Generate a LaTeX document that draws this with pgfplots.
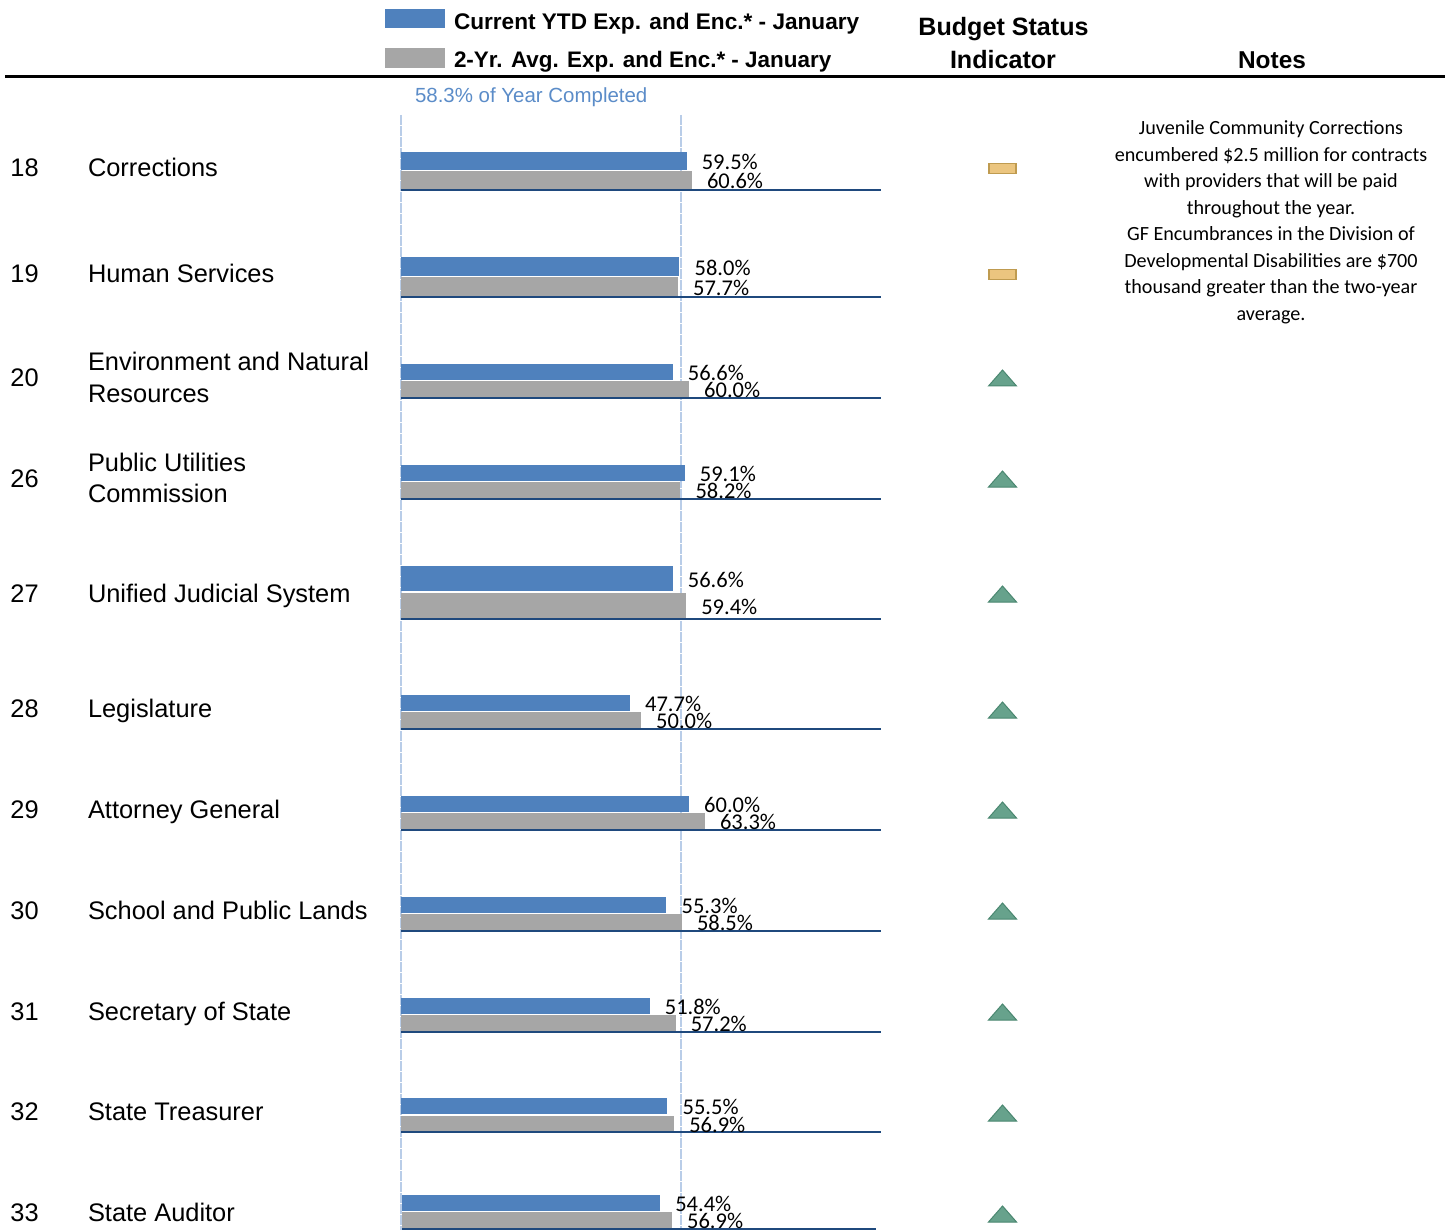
\documentclass[border=0pt]{standalone}
\usepackage{pgfplots}
\usepackage{fontspec}
\pgfplotsset{compat=1.18}
\setmainfont{Liberation Sans}
\newfontfamily\calibri{Carlito}
\definecolor{cblue}{HTML}{4F81BD}
\definecolor{cgray}{HTML}{A6A6A6}
\definecolor{cnavy}{HTML}{1F497D}
\definecolor{cvline}{HTML}{B9CDE8}
\definecolor{ctxt}{HTML}{5B8CC8}
\definecolor{gfill}{HTML}{67A28C}
\definecolor{gedge}{HTML}{4A8770}
\definecolor{ofill}{HTML}{EBC57F}
\definecolor{oedge}{HTML}{BF9B50}
\newcommand\hdfont{\bfseries\fontsize{12.55}{14}\selectfont}
\newcommand\ntfont{\bfseries\fontsize{12.2}{14}\selectfont}
\newcommand\lgfont{\bfseries\fontsize{11.3}{14}\selectfont}
\newcommand\lgfontb{\bfseries\fontsize{11.23}{14}\selectfont}
\newcommand\rowfont{\fontsize{12.7}{15.75}\selectfont}
% single-line row: baselines at the given pixel
\newcommand\rlab[3]{%
  \node[anchor=base west,font=\rowfont] at (axis cs:10.5,#1) {#2};
  \node[anchor=base west,font=\rowfont] at (axis cs:88,#1) {#3};}
% two-line row: number baseline, then block centre
\newcommand\rlabb[4]{%
  \node[anchor=base west,font=\rowfont] at (axis cs:10.5,#1) {#2};
  \node[anchor=west,align=left,font=\rowfont] at (axis cs:88,#3) {#4};}
\pgfdeclareplotmark{statup}{%
  \pgfpathmoveto{\pgfqpoint{-7pt}{-4pt}}%
  \pgfpathlineto{\pgfqpoint{7pt}{-4pt}}%
  \pgfpathlineto{\pgfqpoint{0pt}{4pt}}%
  \pgfpathclose\pgfusepathqfillstroke}
\pgfdeclareplotmark{statmid}{%
  \pgfpathmoveto{\pgfqpoint{-6.8pt}{-2.5pt}}%
  \pgfpathlineto{\pgfqpoint{6.8pt}{-2.5pt}}%
  \pgfpathlineto{\pgfqpoint{6.8pt}{2.5pt}}%
  \pgfpathlineto{\pgfqpoint{-6.8pt}{2.5pt}}%
  \pgfpathclose\pgfusepathqfillstroke}
\pgfplotsset{
  frame/.style={at={(0,0)},anchor=south west,scale only axis,width=726pt,height=615pt,
    hide axis,clip=false,y dir=reverse,ymin=0,ymax=1230,
    /pgf/number format/assume math mode=true},
  val/.style={xbar,bar shift=0pt,draw=none,point meta=x,
    nodes near coords={\pgfmathprintnumber[fixed,fixed zerofill,precision=1]{\pgfplotspointmeta}\%},
    every node near coord/.append style={anchor=west,inner sep=0pt,xshift=7.4pt,yshift=-0.6pt,text=black,
      font=\calibri\fontsize{11.25}{12}\selectfont}},
  cur/.style={val,fill=cblue,bar width=#1},
  avg/.style={val,fill=cgray,bar width=#1},
  vl/.style={cvline,line width=1pt,dash pattern=on 5pt off 0.5pt},
  hl/.style={cnavy,line width=1pt},
}
\begin{document}
\begin{tikzpicture}
\path[use as bounding box] (0,0) rectangle (726pt,615pt);
% percent axis: 0% at px 401, 4.8 px per percent
\begin{axis}[frame,xmin=-83.5417,xmax=218.9583]
\addplot[vl,forget plot] coordinates {(0,115)(0,1230)};
\addplot[vl,forget plot] coordinates {(58.3,115)(58.3,1230)};
\addplot[cur=9pt] coordinates {(59.5,161)};
\addplot[avg=9pt] coordinates {(60.6,180)};
\addplot[hl] coordinates {(0,190)(100,190)};
\addplot[cur=9.5pt] coordinates {(58.0,266.5)};
\addplot[avg=9.5pt] coordinates {(57.7,286.5)};
\addplot[hl] coordinates {(0,297)(100,297)};
\addplot[cur=8.2pt] coordinates {(56.6,372)};
\addplot[avg=8.2pt] coordinates {(60.0,389)};
\addplot[hl] coordinates {(0,398)(100,398)};
\addplot[cur=8.2pt] coordinates {(59.1,473)};
\addplot[avg=8.2pt] coordinates {(58.2,490)};
\addplot[hl] coordinates {(0,499)(100,499)};
\addplot[cur=12.5pt] coordinates {(56.6,578.5)};
\addplot[avg=12.5pt] coordinates {(59.4,605.5)};
\addplot[hl] coordinates {(0,619)(100,619)};
\addplot[cur=8.2pt] coordinates {(47.7,703)};
\addplot[avg=8.2pt] coordinates {(50.0,720)};
\addplot[hl] coordinates {(0,729)(100,729)};
\addplot[cur=8.2pt] coordinates {(60.0,804)};
\addplot[avg=8.2pt] coordinates {(63.3,821)};
\addplot[hl] coordinates {(0,830)(100,830)};
\addplot[cur=8.2pt] coordinates {(55.3,905)};
\addplot[avg=8.2pt] coordinates {(58.5,922)};
\addplot[hl] coordinates {(0,931)(100,931)};
\addplot[cur=8.2pt] coordinates {(51.8,1006)};
\addplot[avg=8.2pt] coordinates {(57.2,1023)};
\addplot[hl] coordinates {(0,1032)(100,1032)};
\addplot[cur=8.2pt] coordinates {(55.5,1106)};
\addplot[avg=8.2pt] coordinates {(56.9,1124)};
\addplot[hl] coordinates {(0,1132)(100,1132)};
\end{axis}
% last group sits on a slightly narrower scale: 0% at px 402.5, 4.735 px per percent
\begin{axis}[frame,xmin=-85.0,xmax=221.65]
\addplot[cur=8.2pt] coordinates {(54.4,1203)};
\addplot[avg=8.2pt] coordinates {(56.9,1220)};
\addplot[hl] coordinates {(0,1229)(100,1229)};
\end{axis}
% pixel axis for header, labels and status marks
\begin{axis}[frame,xmin=0,xmax=1452]
\addplot[black,line width=1.5pt] coordinates {(5,76.5)(1445,76.5)};
\addplot[fill=cblue,draw=none] coordinates {(385,9)(445,9)(445,28)(385,28)} --cycle;
\addplot[fill=cgray,draw=none] coordinates {(385,48)(445,48)(445,68)(385,68)} --cycle;
\addplot[only marks,mark=statmid,mark options={fill=ofill,draw=oedge,line width=0.7pt}]
  coordinates {(1002.5,168.5)(1002.5,274.5)};
\addplot[only marks,mark=statup,mark options={fill=gfill,draw=gedge,line width=0.5pt}]
  coordinates {(1002.5,378)(1002.5,479)(1002.5,594)(1002.5,710)(1002.5,810)(1002.5,911)(1002.5,1012)(1002.5,1113)(1002.5,1214)};
\tikzset{every node/.style={inner sep=0pt,outer sep=0pt}}
\node[anchor=base west,font=\lgfont] at (axis cs:454,29.5) {Current YTD Exp. and Enc.* - January};
\node[anchor=base west,font=\lgfontb] at (axis cs:454,67.5) {2-Yr. Avg. Exp. and Enc.* - January};
\node[anchor=base,font=\hdfont] at (axis cs:1003.5,35.5) {Budget Status};
\node[anchor=base,font=\hdfont] at (axis cs:1003,68.5) {Indicator};
\node[anchor=base,font=\ntfont] at (axis cs:1272,68.5) {Notes};
\node[anchor=base west,text=ctxt,font=\fontsize{10.23}{12}\selectfont] at (axis cs:415,102.5) {58.3\% of Year Completed};
\rlab{176.5}{18}{Corrections}
\rlab{282.5}{19}{Human Services}
\rlabb{386.5}{20}{377.5}{Environment and Natural\\Resources}
\rlabb{487.5}{26}{478}{Public Utilities\\Commission}
\rlab{602.5}{27}{Unified Judicial System}
\rlab{717.5}{28}{Legislature}
\rlab{818.5}{29}{Attorney General}
\rlab{919.5}{30}{School and Public Lands}
\rlab{1020}{31}{Secretary of State}
\rlab{1120.5}{32}{State Treasurer}
\rlab{1221.5}{33}{State Auditor}
\node[align=center,font=\calibri\fontsize{10.07}{13.25}\selectfont] at (axis cs:1271,222) {Juvenile Community Corrections\\encumbered \$2.5 million for contracts\\with providers that will be paid\\throughout the year.\\GF Encumbrances in the Division of\\Developmental Disabilities are \$700\\thousand greater than the two-year\\average.};
\end{axis}
\end{tikzpicture}
\end{document}
